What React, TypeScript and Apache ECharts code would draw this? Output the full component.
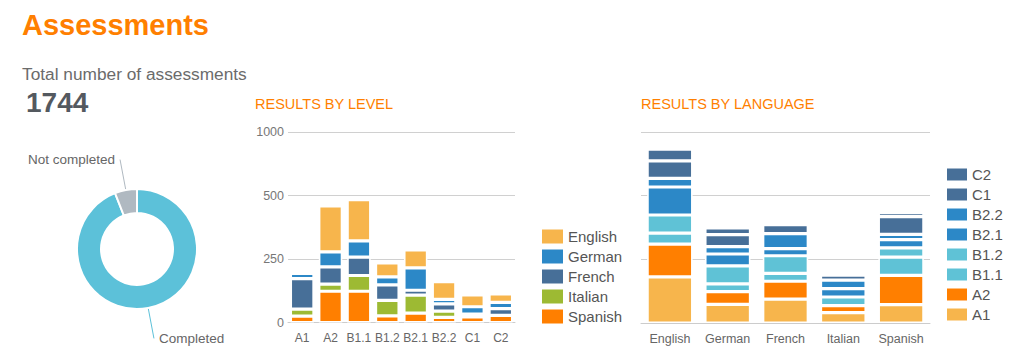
import React, { useEffect, useRef } from "react";
import * as echarts from "echarts";

const FONT = "'Liberation Sans', Arial, sans-serif";

// Donut
const donutNames = ["Completed", "Not completed"];
const donutValues = [1640, 104];
const totalAssessments = "1744";

// Results by level
const levelCategories = ["A1", "A2", "B1.1", "B1.2", "B2.1", "B2.2", "C1", "C2"];
const levelTickLabels = ["0", "250", "500", "1000"];
const spanishByLevel = [25, 123, 123, 26, 37, 20, 22, 28];
const italianByLevel = [28, 28, 62, 61, 71, 25, 0, 0];
const frenchByLevel = [120, 68, 72, 61, 19, 28, 11, 27];
const germanByLevel = [20, 59, 64, 32, 88, 18, 29, 24];
const englishByLevel = [0, 181, 163, 55, 71, 70, 47, 34];

// Results by language
const languageCategories = ["English", "German", "French", "Italian", "Spanish"];
const a1ByLang = [181, 73, 94, 41, 72];
const a2ByLang = [129, 50, 70, 27, 115];
const b11ByLang = [43, 31, 31, 34, 72];
const b12ByLang = [71, 70, 69, 0, 36];
const b21ByLang = [110, 47, 28, 33, 32];
const b22ByLang = [34, 29, 59, 33, 21];
const c1ByLang = [69, 47, 35, 20, 70];
const c2ByLang = [46, 26, 0, 0, 15];

const C_YELLOW = "#f7b54c";
const C_ORANGE = "#ff7f00";
const C_GREEN = "#9dba33";
const C_DARK = "#476f98";
const C_BLUE = "#2c88c7";
const C_CYAN = "#5fc2d6";

export default function App() {
  const ref = useRef<HTMLDivElement>(null);
  useEffect(() => {
    if (!ref.current) return;
    const chart = echarts.init(ref.current, null, { renderer: "svg" });

    const barStyle = (color: string) => ({ color, borderColor: "#fff", borderWidth: 1.6 });

    const levelSeries = [
      { name: "Spanish", data: spanishByLevel, color: C_ORANGE },
      { name: "Italian", data: italianByLevel, color: C_GREEN },
      { name: "French", data: frenchByLevel, color: C_DARK },
      { name: "German", data: germanByLevel, color: C_BLUE },
      { name: "English", data: englishByLevel, color: C_YELLOW },
    ].map((s) => ({
      type: "bar",
      name: s.name,
      data: s.data,
      stack: "level",
      xAxisIndex: 0,
      yAxisIndex: 0,
      barWidth: 23.5,
      itemStyle: barStyle(s.color),
    }));

    const langSeries = [
      { name: "A1", data: a1ByLang, color: C_YELLOW },
      { name: "A2", data: a2ByLang, color: C_ORANGE },
      { name: "B1.1", data: b11ByLang, color: C_CYAN },
      { name: "B1.2", data: b12ByLang, color: C_CYAN },
      { name: "B2.1", data: b21ByLang, color: C_BLUE },
      { name: "B2.2", data: b22ByLang, color: C_BLUE },
      { name: "C1", data: c1ByLang, color: C_DARK },
      { name: "C2", data: c2ByLang, color: C_DARK },
    ].map((s) => ({
      type: "bar",
      name: s.name,
      data: s.data,
      stack: "lang",
      xAxisIndex: 1,
      yAxisIndex: 1,
      barWidth: 45.5,
      itemStyle: barStyle(s.color),
    }));

    const splitLine = { show: true, lineStyle: { color: "#d0d0d0", width: 1 } };

    chart.setOption({
      animation: false,
      textStyle: { fontFamily: FONT },
      graphic: [
        { type: "text", x: 22, y: 24.5, style: { text: "Assessments", fill: "#ff7f00", font: `bold 29px ${FONT}`, verticalAlign: "middle" } },
        { type: "text", x: 22, y: 73.5, style: { text: "Total number of assessments", fill: "#6b6b6b", font: `17.3px ${FONT}`, verticalAlign: "middle" } },
        { type: "text", x: 26, y: 102, style: { text: totalAssessments, fill: "#54595f", font: `bold 28px ${FONT}`, verticalAlign: "middle" } },
        { type: "text", x: 255, y: 104, style: { text: "RESULTS BY LEVEL", fill: "#ff7f00", font: `14.5px ${FONT}`, verticalAlign: "middle" } },
        { type: "text", x: 641, y: 104, style: { text: "RESULTS BY LANGUAGE", fill: "#ff7f00", font: `14.5px ${FONT}`, verticalAlign: "middle" } },
      ],
      legend: [
        {
          orient: "vertical",
          left: 542,
          top: 229,
          padding: 0,
          itemWidth: 21,
          itemHeight: 14,
          itemGap: 5,
          icon: "rect",
          itemStyle: { borderWidth: 0 },
          textStyle: { fontSize: 15, color: "#555", fontFamily: FONT },
          data: ["English", "German", "French", "Italian", "Spanish"],
          selectedMode: false,
        },
        {
          orient: "vertical",
          left: 947,
          top: 167,
          padding: 0,
          itemWidth: 20,
          itemHeight: 12,
          itemGap: 5,
          icon: "rect",
          itemStyle: { borderWidth: 0 },
          textStyle: { fontSize: 15, color: "#555", fontFamily: FONT },
          data: ["C2", "C1", "B2.2", "B2.1", "B1.2", "B1.1", "A2", "A1"],
          selectedMode: false,
        },
      ],
      grid: [
        { left: 288, top: 132, width: 227, height: 190.5 },
        { left: 641, top: 132, width: 289, height: 191 },
      ],
      xAxis: [
        {
          type: "category",
          gridIndex: 0,
          data: levelCategories,
          axisTick: { show: false },
          axisLine: { lineStyle: { color: "#cccccc" } },
          axisLabel: { color: "#666", fontSize: 12, margin: 9, interval: 0, hideOverlap: false, fontFamily: FONT },
        },
        {
          type: "category",
          gridIndex: 1,
          data: languageCategories,
          axisTick: { show: false },
          axisLine: { lineStyle: { color: "#cccccc" } },
          axisLabel: { color: "#666", fontSize: 12.5, margin: 9, interval: 0, hideOverlap: false, fontFamily: FONT },
        },
      ],
      yAxis: [
        {
          type: "value",
          gridIndex: 0,
          min: 0,
          max: 750,
          interval: 250,
          splitLine,
          axisLine: { show: false },
          axisTick: { show: false },
          axisLabel: {
            color: "#777",
            fontSize: 12.5,
            margin: 4,
            fontFamily: FONT,
            formatter: (v: number) => levelTickLabels[Math.round(v / 250)] ?? "",
          },
        },
        {
          type: "value",
          gridIndex: 1,
          min: 0,
          max: 750,
          interval: 250,
          splitLine,
          axisLine: { show: false },
          axisTick: { show: false },
          axisLabel: { show: false },
        },
      ],
      series: [
        {
          type: "pie",
          center: [137, 249],
          radius: [36, 60],
          startAngle: 90,
          clockwise: true,
          data: donutNames.map((n, i) => ({
            name: n,
            value: donutValues[i],
            itemStyle: { color: i === 0 ? "#5cc1d9" : "#b0b9c1" },
          })),
          itemStyle: { borderColor: "#fff", borderWidth: 2 },
          label: { show: true, color: "#666", fontSize: 13.5, fontFamily: FONT, formatter: "{b}" },
          labelLine: { show: true, length: 31, length2: 0, lineStyle: { width: 1 } },
          emphasis: { disabled: true },
        },
        ...levelSeries,
        ...langSeries,
      ],
    });
    return () => chart.dispose();
  }, []);
  return (
    <div
      ref={ref}
      style={{ position: "absolute", left: 0, top: 0, width: 1024, height: 359 }}
    />
  );
}
